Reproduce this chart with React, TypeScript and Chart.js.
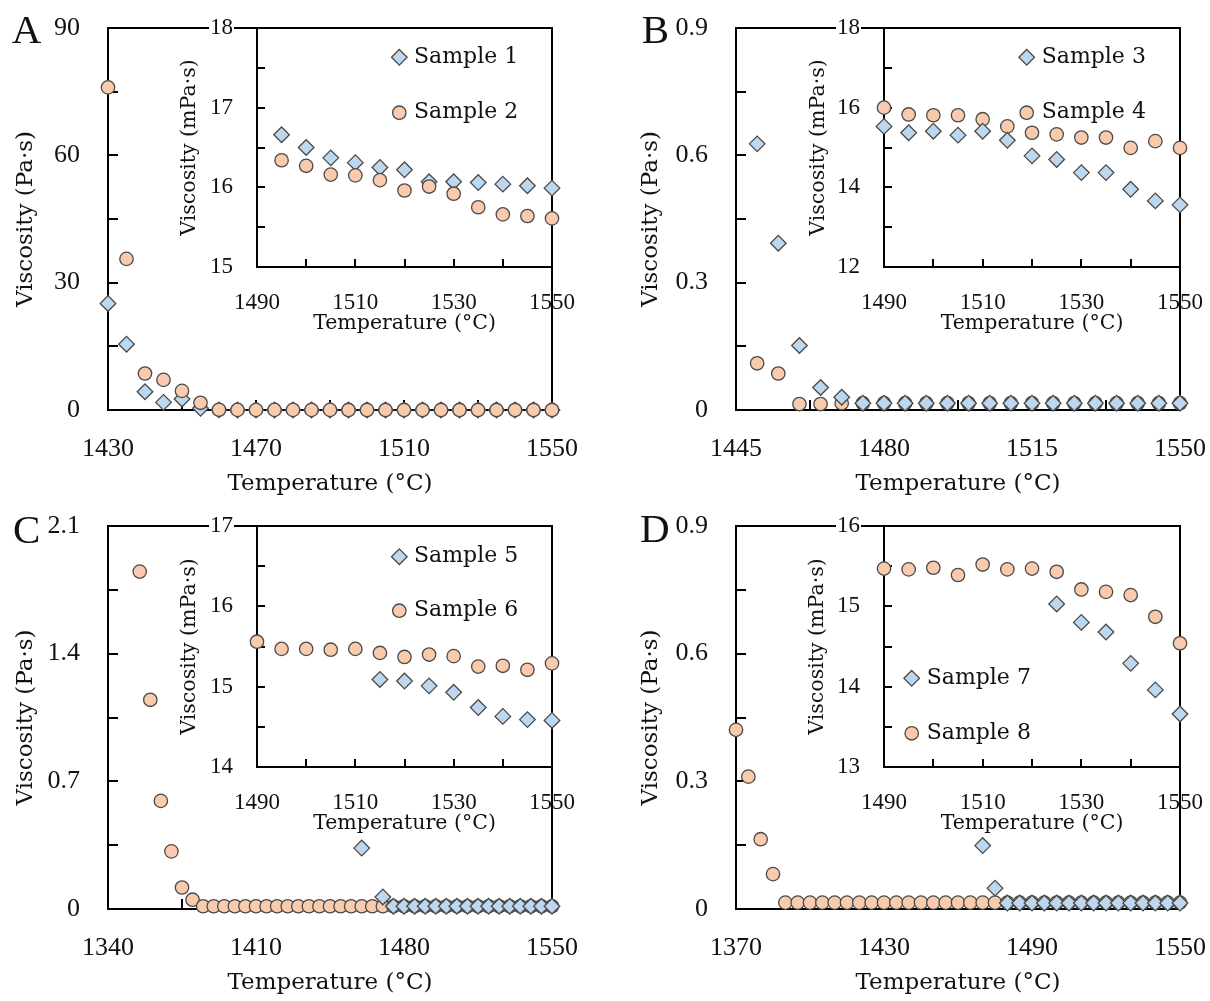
import React, { useEffect, useRef } from 'react';
import { Chart, registerables } from 'chart.js';

Chart.register(...registerables);

// ---------------- Panel A ----------------
const tempA = [1430, 1435, 1440, 1445, 1450, 1455, 1460, 1465, 1470, 1475, 1480, 1485, 1490, 1495, 1500, 1505, 1510, 1515, 1520, 1525, 1530, 1535, 1540, 1545, 1550];
const sample1Main = [25.1, 15.5, 4.3, 1.8, 2.6, 0.4, 0.03, 0.02, 0.02, 0.02, 0.02, 0.02, 0.02, 0.017, 0.017, 0.016, 0.016, 0.016, 0.016, 0.016, 0.016, 0.016, 0.016, 0.016, 0.016];
const sample2Main = [76.0, 35.6, 8.6, 7.1, 4.5, 1.7, 0.05, 0.02, 0.02, 0.02, 0.02, 0.02, 0.02, 0.016, 0.016, 0.016, 0.016, 0.016, 0.016, 0.016, 0.016, 0.016, 0.016, 0.016, 0.016];
const tempInsetA = [1495, 1500, 1505, 1510, 1515, 1520, 1525, 1530, 1535, 1540, 1545, 1550];
const sample1Inset = [16.66, 16.5, 16.37, 16.31, 16.25, 16.22, 16.07, 16.07, 16.06, 16.04, 16.02, 15.99];
const sample2Inset = [16.34, 16.27, 16.16, 16.15, 16.09, 15.96, 16.01, 15.92, 15.75, 15.66, 15.64, 15.61];

// ---------------- Panel B ----------------
const tempB = [1450, 1455, 1460, 1465, 1470, 1475, 1480, 1485, 1490, 1495, 1500, 1505, 1510, 1515, 1520, 1525, 1530, 1535, 1540, 1545, 1550];
const sample3Main = [0.627, 0.393, 0.152, 0.053, 0.03, 0.016, 0.016, 0.016, 0.016, 0.016, 0.016, 0.016, 0.016, 0.016, 0.016, 0.016, 0.016, 0.016, 0.016, 0.016, 0.016];
const sample4Main = [0.11, 0.086, 0.014, 0.014, 0.016, 0.016, 0.016, 0.016, 0.016, 0.016, 0.016, 0.016, 0.016, 0.016, 0.016, 0.016, 0.016, 0.016, 0.016, 0.016, 0.016];
const tempInsetB = [1490, 1495, 1500, 1505, 1510, 1515, 1520, 1525, 1530, 1535, 1540, 1545, 1550];
const sample3Inset = [15.53, 15.37, 15.41, 15.31, 15.41, 15.18, 14.79, 14.7, 14.37, 14.37, 13.95, 13.66, 13.56];
const sample4Inset = [16.0, 15.83, 15.81, 15.81, 15.71, 15.53, 15.37, 15.33, 15.25, 15.25, 14.99, 15.16, 14.99];

// ---------------- Panel C ----------------
const tempC6 = [1355, 1360, 1365, 1370, 1375, 1380, 1385, 1390, 1395, 1400, 1405, 1410, 1415, 1420, 1425, 1430, 1435, 1440, 1445, 1450, 1455, 1460, 1465, 1470, 1475, 1480, 1485, 1490, 1495, 1500, 1505, 1510, 1515, 1520, 1525, 1530, 1535, 1540, 1545, 1550];
const sample6Main = [1.85, 1.147, 0.593, 0.316, 0.118, 0.051, 0.015, 0.015, 0.015, 0.015, 0.015, 0.015, 0.015, 0.015, 0.015, 0.015, 0.015, 0.015, 0.015, 0.015, 0.015, 0.015, 0.015, 0.015, 0.015, 0.015, 0.015, 0.015, 0.015, 0.015, 0.015, 0.015, 0.015, 0.015, 0.015, 0.015, 0.015, 0.015, 0.015, 0.015];
const tempC5 = [1460, 1470, 1475, 1480, 1485, 1490, 1495, 1500, 1505, 1510, 1515, 1520, 1525, 1530, 1535, 1540, 1545, 1550];
const sample5Main = [0.334, 0.066, 0.015, 0.015, 0.015, 0.015, 0.015, 0.015, 0.015, 0.015, 0.015, 0.015, 0.015, 0.015, 0.015, 0.015, 0.015, 0.015];
const tempInsetC6 = [1490, 1495, 1500, 1505, 1510, 1515, 1520, 1525, 1530, 1535, 1540, 1545, 1550];
const sample6Inset = [15.56, 15.47, 15.47, 15.46, 15.47, 15.42, 15.37, 15.4, 15.38, 15.25, 15.26, 15.21, 15.29];
const tempInsetC5 = [1515, 1520, 1525, 1530, 1535, 1540, 1545, 1550];
const sample5Inset = [15.09, 15.07, 15.01, 14.93, 14.74, 14.63, 14.59, 14.58];

// ---------------- Panel D ----------------
const tempD8 = [1370, 1375, 1380, 1385, 1390, 1395, 1400, 1405, 1410, 1415, 1420, 1425, 1430, 1435, 1440, 1445, 1450, 1455, 1460, 1465, 1470, 1475, 1480, 1485, 1490, 1495, 1500, 1505, 1510, 1515, 1520, 1525, 1530, 1535, 1540, 1545, 1550];
const sample8Main = [0.421, 0.311, 0.164, 0.082, 0.015, 0.015, 0.015, 0.015, 0.015, 0.015, 0.015, 0.015, 0.015, 0.015, 0.015, 0.015, 0.015, 0.015, 0.015, 0.015, 0.015, 0.015, 0.015, 0.015, 0.015, 0.015, 0.015, 0.015, 0.015, 0.015, 0.015, 0.015, 0.015, 0.015, 0.015, 0.015, 0.015];
const tempD7 = [1470, 1475, 1480, 1485, 1490, 1495, 1500, 1505, 1510, 1515, 1520, 1525, 1530, 1535, 1540, 1545, 1550];
const sample7Main = [0.149, 0.049, 0.014, 0.014, 0.014, 0.014, 0.014, 0.014, 0.014, 0.014, 0.014, 0.014, 0.014, 0.014, 0.014, 0.014, 0.014];
const tempInsetD8 = [1490, 1495, 1500, 1505, 1510, 1515, 1520, 1525, 1530, 1535, 1540, 1545, 1550];
const sample8Inset = [15.47, 15.46, 15.48, 15.39, 15.52, 15.46, 15.47, 15.43, 15.21, 15.18, 15.14, 14.87, 14.54];
const tempInsetD7 = [1525, 1530, 1535, 1540, 1545, 1550];
const sample7Inset = [15.03, 14.8, 14.68, 14.29, 13.96, 13.66];

// ---------------- Ticks ----------------
const xLabelsA = [1430, 1470, 1510, 1550];
const xMarksA = [1430, 1450, 1470, 1490, 1510, 1530, 1550];
const yLabelsA = [0, 30, 60, 90];
const yMarksA = [0, 15, 30, 45, 60, 75, 90];
const xLabelsB = [1445, 1480, 1515, 1550];
const xMarksB = [1445, 1462.5, 1480, 1497.5, 1515, 1532.5, 1550];
const yLabelsBD = [0, 0.3, 0.6, 0.9];
const yMarksBD = [0, 0.15, 0.3, 0.45, 0.6, 0.75, 0.9];
const xLabelsC = [1340, 1410, 1480, 1550];
const xMarksC = [1340, 1375, 1410, 1445, 1480, 1515, 1550];
const yLabelsC = [0, 0.7, 1.4, 2.1];
const yMarksC = [0, 0.35, 0.7, 1.05, 1.4, 1.75, 2.1];
const xLabelsD = [1370, 1430, 1490, 1550];
const xMarksD = [1370, 1400, 1430, 1460, 1490, 1520, 1550];
const insetXLabels = [1490, 1510, 1530, 1550];
const insetXMarks = [1490, 1500, 1510, 1520, 1530, 1540, 1550];
const insetYLabelsA = [15, 16, 17, 18];
const insetYMarksA = [15, 15.5, 16, 16.5, 17, 17.5, 18];
const insetYLabelsB = [12, 14, 16, 18];
const insetYMarksB = [12, 13, 14, 15, 16, 17, 18];
const insetYLabelsC = [14, 15, 16, 17];
const insetYMarksC = [14, 14.5, 15, 15.5, 16, 16.5, 17];
const insetYLabelsD = [13, 14, 15, 16];
const insetYMarksD = [13, 13.5, 14, 14.5, 15, 15.5, 16];

const X_TITLE = 'Temperature (°C)';
const Y_TITLE_MAIN = 'Viscosity (Pa·s)';
const Y_TITLE_INSET = 'Viscosity (mPa·s)';

// ---------------- Styles ----------------
const TEXT_FONT = '"DejaVu Serif", serif';
const NUM_FONT = '"Liberation Serif", serif';
const INK = '#111111';
const BLUE_FILL = '#BDD7EE';
const ORANGE_FILL = '#F8CBAD';
const MARK_EDGE = '#4a4a4a';
const DIAMOND_R = 7.8;
const CIRCLE_R = 6.7;

type Shape = 'diamond' | 'circle';
type Series = { xs: number[]; ys: number[]; shape: Shape; order: number };
type Axis = { min: number; max: number; labels: number[]; marks: number[]; title: string };
type Spec = {
  id: string;
  box: { x: number; y: number; w: number; h: number };
  area: { l: number; t: number; r: number; b: number };
  inset: boolean;
  xAxis: Axis;
  yAxis: Axis;
  xTitleY: number;
  yTitleX: number;
  series: Series[];
  legend?: { names: string[]; mx: number; tx: number; y1: number; y2: number };
  letter?: { text: string; x: number; y: number };
};

const specs: Spec[] = [
  {
    id: 'A', box: { x: 0, y: 0, w: 600, h: 505 }, area: { l: 108, t: 28, r: 552, b: 410 }, inset: false,
    xAxis: { min: 1430, max: 1550, labels: xLabelsA, marks: xMarksA, title: X_TITLE },
    yAxis: { min: 0, max: 90, labels: yLabelsA, marks: yMarksA, title: Y_TITLE_MAIN },
    xTitleY: 486, yTitleX: 28.3,
    series: [
      { xs: tempA, ys: sample2Main, shape: 'circle', order: 0 },
      { xs: tempA, ys: sample1Main, shape: 'diamond', order: 1 },
    ],
    letter: { text: 'A', x: 11.7, y: 43.3 },
  },
  {
    id: 'A-inset', box: { x: 169, y: 8, w: 421, h: 332 }, area: { l: 257, t: 28, r: 552, b: 267 }, inset: true,
    xAxis: { min: 1490, max: 1550, labels: insetXLabels, marks: insetXMarks, title: X_TITLE },
    yAxis: { min: 15, max: 18, labels: insetYLabelsA, marks: insetYMarksA, title: Y_TITLE_INSET },
    xTitleY: 326, yTitleX: 192,
    series: [
      { xs: tempInsetA, ys: sample2Inset, shape: 'circle', order: 0 },
      { xs: tempInsetA, ys: sample1Inset, shape: 'diamond', order: 1 },
    ],
    legend: { names: ['Sample 1', 'Sample 2'], mx: 142.3, tx: 157, y1: 29.3, y2: 84.7 },
  },
  {
    id: 'B', box: { x: 620, y: 0, w: 590, h: 505 }, area: { l: 736, t: 28, r: 1180, b: 410 }, inset: false,
    xAxis: { min: 1445, max: 1550, labels: xLabelsB, marks: xMarksB, title: X_TITLE },
    yAxis: { min: 0, max: 0.9, labels: yLabelsBD, marks: yMarksBD, title: Y_TITLE_MAIN },
    xTitleY: 486, yTitleX: 653,
    series: [
      { xs: tempB, ys: sample3Main, shape: 'diamond', order: 0 },
      { xs: tempB, ys: sample4Main, shape: 'circle', order: 1 },
    ],
    letter: { text: 'B', x: 641.7, y: 43.3 },
  },
  {
    id: 'B-inset', box: { x: 796, y: 8, w: 414, h: 332 }, area: { l: 884, t: 28, r: 1180, b: 267 }, inset: true,
    xAxis: { min: 1490, max: 1550, labels: insetXLabels, marks: insetXMarks, title: X_TITLE },
    yAxis: { min: 12, max: 18, labels: insetYLabelsB, marks: insetYMarksB, title: Y_TITLE_INSET },
    xTitleY: 326, yTitleX: 820.3,
    series: [
      { xs: tempInsetB, ys: sample3Inset, shape: 'diamond', order: 0 },
      { xs: tempInsetB, ys: sample4Inset, shape: 'circle', order: 1 },
    ],
    legend: { names: ['Sample 3', 'Sample 4'], mx: 142.7, tx: 157.7, y1: 29.3, y2: 84.7 },
  },
  {
    id: 'C', box: { x: 0, y: 500, w: 600, h: 501 }, area: { l: 108, t: 526, r: 552, b: 909 }, inset: false,
    xAxis: { min: 1340, max: 1550, labels: xLabelsC, marks: xMarksC, title: X_TITLE },
    yAxis: { min: 0, max: 2.1, labels: yLabelsC, marks: yMarksC, title: Y_TITLE_MAIN },
    xTitleY: 985, yTitleX: 28.3,
    series: [
      { xs: tempC5, ys: sample5Main, shape: 'diamond', order: 0 },
      { xs: tempC6, ys: sample6Main, shape: 'circle', order: 1 },
    ],
    letter: { text: 'C', x: 13, y: 542.7 },
  },
  {
    id: 'C-inset', box: { x: 169, y: 506, w: 421, h: 334 }, area: { l: 257, t: 526, r: 552, b: 767 }, inset: true,
    xAxis: { min: 1490, max: 1550, labels: insetXLabels, marks: insetXMarks, title: X_TITLE },
    yAxis: { min: 14, max: 17, labels: insetYLabelsC, marks: insetYMarksC, title: Y_TITLE_INSET },
    xTitleY: 826, yTitleX: 191.7,
    series: [
      { xs: tempInsetC5, ys: sample5Inset, shape: 'diamond', order: 0 },
      { xs: tempInsetC6, ys: sample6Inset, shape: 'circle', order: 1 },
    ],
    legend: { names: ['Sample 5', 'Sample 6'], mx: 142.3, tx: 157, y1: 30.7, y2: 84.7 },
  },
  {
    id: 'D', box: { x: 620, y: 500, w: 590, h: 501 }, area: { l: 736, t: 526, r: 1180, b: 909 }, inset: false,
    xAxis: { min: 1370, max: 1550, labels: xLabelsD, marks: xMarksD, title: X_TITLE },
    yAxis: { min: 0, max: 0.9, labels: yLabelsBD, marks: yMarksBD, title: Y_TITLE_MAIN },
    xTitleY: 985, yTitleX: 653.3,
    series: [
      { xs: tempD7, ys: sample7Main, shape: 'diamond', order: 0 },
      { xs: tempD8, ys: sample8Main, shape: 'circle', order: 1 },
    ],
    letter: { text: 'D', x: 640, y: 541.7 },
  },
  {
    id: 'D-inset', box: { x: 796, y: 506, w: 414, h: 334 }, area: { l: 884, t: 526, r: 1180, b: 767 }, inset: true,
    xAxis: { min: 1490, max: 1550, labels: insetXLabels, marks: insetXMarks, title: X_TITLE },
    yAxis: { min: 13, max: 16, labels: insetYLabelsD, marks: insetYMarksD, title: Y_TITLE_INSET },
    xTitleY: 826, yTitleX: 820,
    series: [
      { xs: tempInsetD7, ys: sample7Inset, shape: 'diamond', order: 0 },
      { xs: tempInsetD8, ys: sample8Inset, shape: 'circle', order: 1 },
    ],
    legend: { names: ['Sample 7', 'Sample 8'], mx: 27.7, tx: 42.7, y1: 152.3, y2: 207.3 },
  },
];

function drawMarker(ctx: CanvasRenderingContext2D, shape: Shape, x: number, y: number) {
  ctx.save();
  ctx.beginPath();
  if (shape === 'diamond') {
    ctx.moveTo(x, y - DIAMOND_R);
    ctx.lineTo(x + DIAMOND_R, y);
    ctx.lineTo(x, y + DIAMOND_R);
    ctx.lineTo(x - DIAMOND_R, y);
    ctx.closePath();
  } else {
    ctx.arc(x, y, CIRCLE_R, 0, Math.PI * 2);
  }
  ctx.fillStyle = shape === 'diamond' ? BLUE_FILL : ORANGE_FILL;
  ctx.fill();
  ctx.lineWidth = 1.3;
  ctx.strokeStyle = MARK_EDGE;
  ctx.stroke();
  ctx.restore();
}

function buildConfig(spec: Spec): any {
  const main = !spec.inset;
  const tickSize = main ? 26 : 23;
  const titleSize = main ? 23 : 20.5;
  const titleLH = titleSize * 1.2;
  const bottomEdge = spec.box.y + spec.box.h;
  const xTitlePadBottom = Math.max(0, bottomEdge - (spec.xTitleY - 0.1 * titleSize) - titleLH / 2);
  const yTitlePadTop = Math.max(0, spec.yTitleX - 0.1 * titleSize - spec.box.x - titleLH / 2);
  const xTickPad = (main ? 39 : 35.5) - (tickSize * 1.2) / 2;
  const yTickPad = main ? 28 : 24;
  const tickLen = main ? 10 : 8;
  const yScaleWidth = spec.area.l - spec.box.x;
  const xScaleHeight = bottomEdge - spec.area.b;

  const resetPadding = (scale: any) => {
    scale.paddingTop = 0;
    scale.paddingBottom = 0;
    scale.paddingLeft = 0;
    scale.paddingRight = 0;
  };

  const framePlugin = {
    id: 'panelFrame',
    beforeDraw(chart: any) {
      if (!spec.inset) return;
      const { ctx, chartArea: a } = chart;
      ctx.save();
      ctx.fillStyle = '#ffffff';
      ctx.fillRect(a.left, a.top, a.right - a.left, a.bottom - a.top);
      ctx.restore();
    },
    beforeDatasetsDraw(chart: any) {
      const { ctx, chartArea: a } = chart;
      const sx = chart.scales.x;
      const sy = chart.scales.y;
      ctx.save();
      ctx.strokeStyle = '#000000';
      ctx.lineWidth = 2;
      ctx.beginPath();
      for (const v of spec.xAxis.marks) {
        const p = Math.round(sx.getPixelForValue(v));
        ctx.moveTo(p, a.bottom);
        ctx.lineTo(p, a.bottom - tickLen);
      }
      for (const v of spec.yAxis.marks) {
        const p = Math.round(sy.getPixelForValue(v));
        ctx.moveTo(a.left, p);
        ctx.lineTo(a.left + tickLen, p);
      }
      ctx.stroke();
      ctx.strokeRect(a.left, a.top, a.right - a.left, a.bottom - a.top);
      ctx.restore();
    },
    afterDraw(chart: any) {
      const { ctx, chartArea: a } = chart;
      if (spec.legend) {
        const lg = spec.legend;
        const shapes: Shape[] = ['diamond', 'circle'];
        const ys = [lg.y1, lg.y2];
        ctx.save();
        ctx.font = `22px ${TEXT_FONT}`;
        ctx.fillStyle = INK;
        ctx.textBaseline = 'middle';
        ctx.textAlign = 'left';
        for (let i = 0; i < 2; i++) {
          drawMarker(ctx, shapes[i], a.left + lg.mx, a.top + ys[i]);
          ctx.fillText(lg.names[i], a.left + lg.tx, a.top + ys[i]);
        }
        ctx.restore();
      }
      if (spec.letter) {
        ctx.save();
        ctx.font = `41px ${NUM_FONT}`;
        ctx.fillStyle = INK;
        ctx.textBaseline = 'alphabetic';
        ctx.textAlign = 'left';
        ctx.fillText(spec.letter.text, spec.letter.x - spec.box.x, spec.letter.y - spec.box.y);
        ctx.restore();
      }
    },
  };

  const datasets = spec.series.map((s) => ({
    label: s.shape,
    data: s.xs.map((x, i) => ({ x, y: s.ys[i] })),
    order: s.order,
    clip: false,
    showLine: false,
    pointStyle: s.shape === 'diamond' ? 'rectRot' : 'circle',
    pointRadius: s.shape === 'diamond' ? DIAMOND_R : CIRCLE_R,
    pointHoverRadius: s.shape === 'diamond' ? DIAMOND_R : CIRCLE_R,
    pointBackgroundColor: s.shape === 'diamond' ? BLUE_FILL : ORANGE_FILL,
    backgroundColor: s.shape === 'diamond' ? BLUE_FILL : ORANGE_FILL,
    pointBorderColor: MARK_EDGE,
    borderColor: MARK_EDGE,
    pointBorderWidth: 1.3,
  }));

  return {
    type: 'scatter',
    data: { datasets },
    plugins: [framePlugin],
    options: {
      responsive: false,
      animation: false,
      devicePixelRatio: 1,
      events: [],
      layout: {
        autoPadding: false,
        padding: {
          left: 0,
          top: spec.area.t - spec.box.y,
          right: spec.box.x + spec.box.w - spec.area.r,
          bottom: 0,
        },
      },
      plugins: { legend: { display: false }, tooltip: { enabled: false }, title: { display: false } },
      scales: {
        x: {
          type: 'linear',
          position: 'bottom',
          min: spec.xAxis.min,
          max: spec.xAxis.max,
          afterBuildTicks: (scale: any) => {
            scale.ticks = spec.xAxis.labels.map((v) => ({ value: v }));
          },
          afterFit: (scale: any) => {
            scale.height = xScaleHeight;
            resetPadding(scale);
          },
          grid: { display: false, drawTicks: false, tickLength: 0 },
          border: { display: false },
          ticks: {
            autoSkip: false,
            maxRotation: 0,
            minRotation: 0,
            padding: xTickPad,
            color: INK,
            font: { family: NUM_FONT, size: tickSize },
            callback: (v: any) => String(v),
          },
          title: {
            display: true,
            text: spec.xAxis.title,
            color: INK,
            font: { family: TEXT_FONT, size: titleSize },
            padding: { top: 0, bottom: xTitlePadBottom },
          },
        },
        y: {
          type: 'linear',
          position: 'left',
          min: spec.yAxis.min,
          max: spec.yAxis.max,
          afterBuildTicks: (scale: any) => {
            scale.ticks = spec.yAxis.labels.map((v) => ({ value: v }));
          },
          afterFit: (scale: any) => {
            scale.width = yScaleWidth;
            resetPadding(scale);
          },
          grid: { display: false, drawTicks: false, tickLength: 0 },
          border: { display: false },
          ticks: {
            autoSkip: false,
            padding: yTickPad,
            color: INK,
            font: { family: NUM_FONT, size: tickSize },
            showLabelBackdrop: spec.inset,
            backdropColor: '#ffffff',
            backdropPadding: 1,
            callback: (v: any) => String(v),
          },
          title: {
            display: true,
            text: spec.yAxis.title,
            color: INK,
            font: { family: TEXT_FONT, size: titleSize },
            padding: { top: yTitlePadTop, bottom: 0 },
          },
        },
      },
    },
  };
}

function PanelChart({ spec }: { spec: Spec }) {
  const ref = useRef<HTMLCanvasElement | null>(null);
  useEffect(() => {
    if (!ref.current) return;
    const chart = new Chart(ref.current, buildConfig(spec));
    return () => chart.destroy();
  }, [spec]);
  return (
    <canvas
      ref={ref}
      width={spec.box.w}
      height={spec.box.h}
      style={{ position: 'absolute', left: spec.box.x, top: spec.box.y, width: spec.box.w, height: spec.box.h }}
    />
  );
}

export default function App() {
  return (
    <div style={{ position: 'absolute', left: 0, top: 0, width: 1210, height: 1001, background: '#ffffff', overflow: 'hidden' }}>
      {specs.map((s) => (
        <PanelChart key={s.id} spec={s} />
      ))}
    </div>
  );
}
